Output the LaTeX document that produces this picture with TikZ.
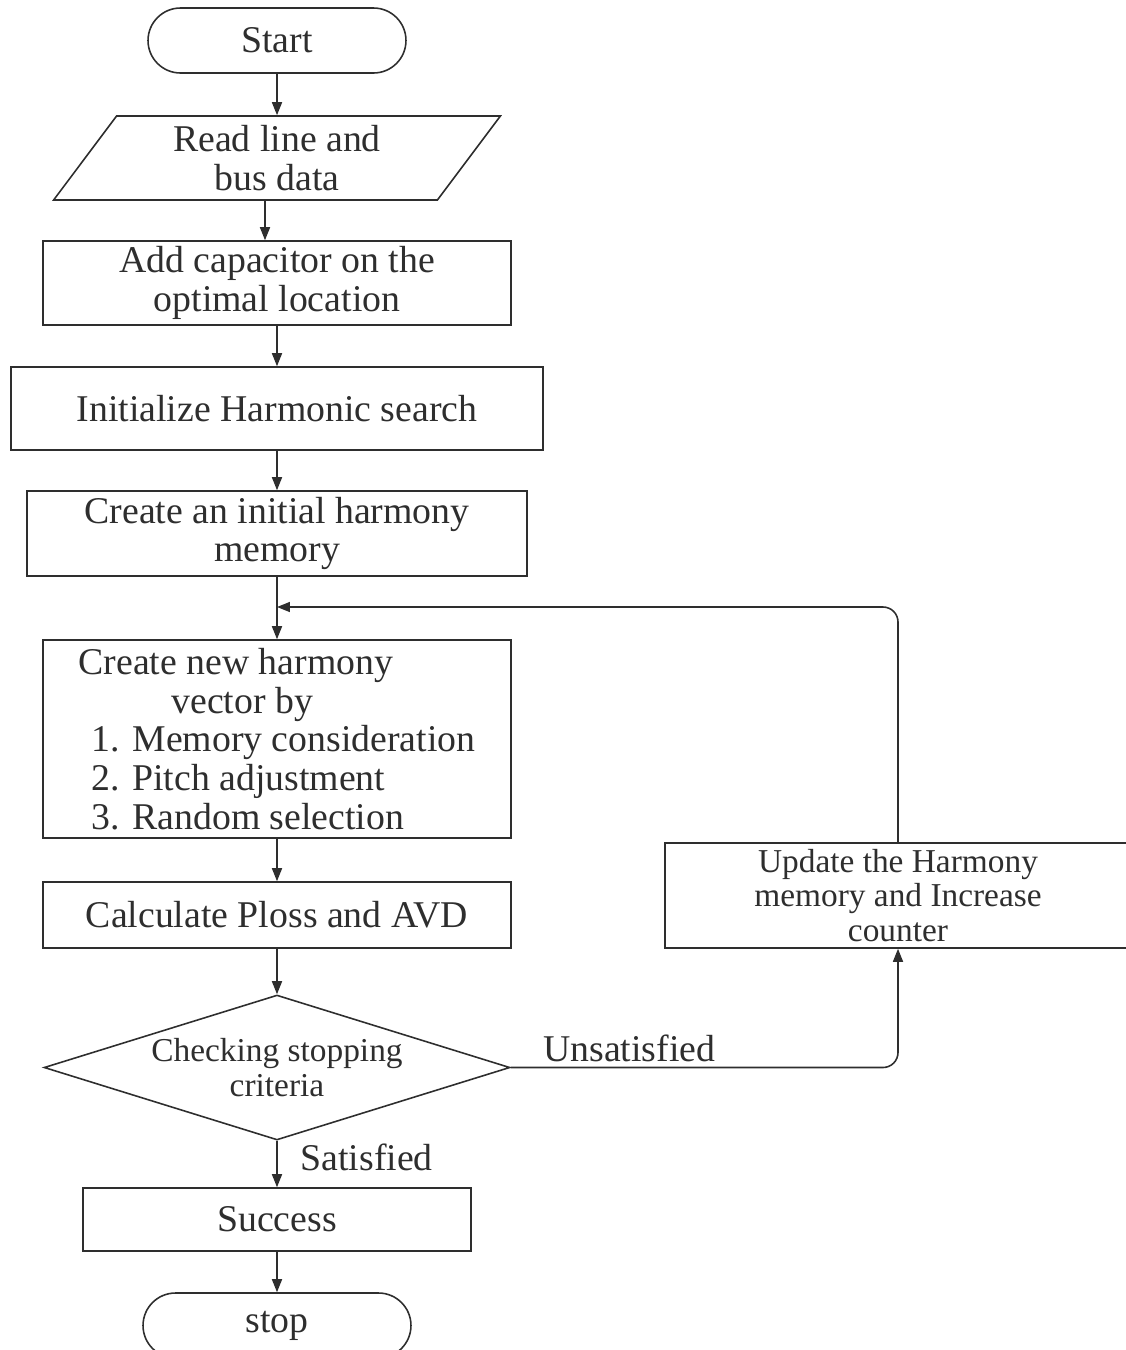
\documentclass[tikz,border=0pt]{standalone}
\usepackage{fontspec}
\setmainfont{Liberation Serif}
\usetikzlibrary{shapes.geometric,arrows.meta}
\definecolor{ink}{HTML}{2E2E2E}

\begin{document}
\begin{tikzpicture}[x=0.02cm,y=-0.02cm,
  every node/.style={text=ink,font=\fontsize{21.5}{22}\selectfont},
  box/.style={draw=ink,line width=0.9pt,rectangle,inner sep=0pt,align=center},
  term/.style={box,rounded corners=0.65cm,minimum height=1.3cm},
  io/.style={draw=ink,line width=0.9pt,trapezium,trapezium left angle=58,
    trapezium right angle=122,trapezium stretches=true,inner sep=0pt,align=center},
  cond/.style={draw=ink,line width=0.9pt,diamond,aspect=3.2,inner sep=0pt,align=center,
    font=\fontsize{19}{19.5}\selectfont},
  flow/.style={draw=ink,line width=0.9pt,-{Triangle[length=0.26cm,width=0.2cm]}}]
\useasboundingbox (0,0) rectangle (1126,1350);

% main column
\node[term,minimum width=5.16cm] (start) at (277,40.5) {Start};
\node[io,minimum width=8.94cm,minimum height=1.68cm] (read) at (277,158) {Read line and\\bus data};
\node[box,minimum width=9.36cm,minimum height=1.68cm] (place) at (277,283) {Add capacitor on the\\optimal location};
\node[box,minimum width=10.64cm,minimum height=1.66cm] (init) at (277,408.5) {Initialize Harmonic search};
\node[box,minimum width=10cm,minimum height=1.7cm] (hm) at (277,533.5) {Create an initial harmony\\memory};
\coordinate (merge) at (277,607);
\node[box,align=left,minimum width=9.36cm,minimum height=3.96cm] (improvise) at (277,739)
  {Create new harmony\\\hspace*{1.86cm}vector by\\\hspace*{0.26cm}1. Memory consideration\\
   \hspace*{0.26cm}2. Pitch adjustment\\\hspace*{0.26cm}3. Random selection};
\node[box,minimum width=9.36cm,minimum height=1.32cm] (calc) at (277,915) {Calculate Ploss and AVD};
\node[cond,minimum width=9.32cm,minimum height=2.9cm] (check) at (277,1067.5) {Checking stopping\\criteria};
\node[box,minimum width=7.76cm,minimum height=1.26cm] (success) at (277,1219.5) {Success};
\node[term,minimum width=5.36cm] (stop) at (277,1325.5) {stop};

% loop back
\node[box,font=\fontsize{19}{19.5}\selectfont,minimum width=9.32cm,minimum height=2.1cm] (update) at (898,895.5)
  {Update the Harmony\\memory and Increase\\counter};

\draw[flow] (start) -- (read);
\draw[flow] ([xshift=-0.24cm]read.south) -- ([xshift=-0.24cm]place.north);
\draw[flow] (place) -- (init);
\draw[flow] (init) -- (hm);
\draw[flow] (hm) -- (improvise);
\draw[flow] (improvise) -- (calc);
\draw[flow] (calc) -- (check);
\draw[flow] (check) -- node[pos=0.35,right=0.34cm] {Satisfied} (success);
\draw[flow] (success) -- (stop);
\draw[flow,rounded corners=0.3cm] (check.east) -| node[pos=0.153,above,inner sep=2.5pt] {Unsatisfied} (update.south);
\draw[flow,rounded corners=0.3cm] (update.north) |- (merge);
\end{tikzpicture}
\end{document}
